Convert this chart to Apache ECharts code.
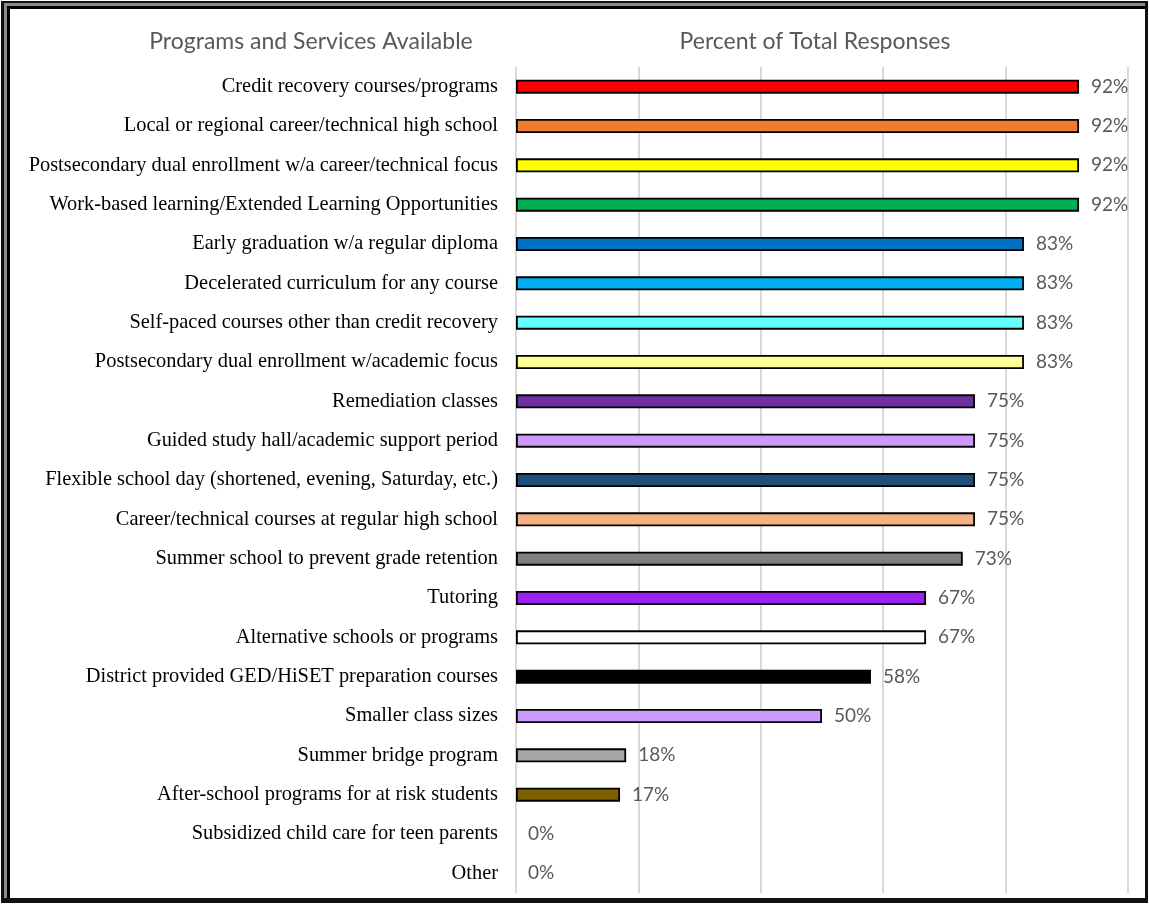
<!DOCTYPE html>
<html>
<head>
<meta charset="utf-8">
<script src="https://cdn.jsdelivr.net/npm/echarts@6/dist/echarts.min.js"></script>
<style>
  html, body { margin: 0; padding: 0; background: #fff; }
  #chart { width: 1149px; height: 904px; }
</style>
</head>
<body>
<div id="chart"></div>
<script>
// Programs offered, top to bottom
const categories = [
  'Credit recovery courses/programs',
  'Local or regional career/technical high school',
  'Postsecondary dual enrollment w/a career/technical focus',
  'Work-based learning/Extended Learning Opportunities',
  'Early graduation w/a regular diploma',
  'Decelerated curriculum for any course',
  'Self-paced courses other than credit recovery',
  'Postsecondary dual enrollment w/academic focus',
  'Remediation classes',
  'Guided study hall/academic support period',
  'Flexible school day (shortened, evening, Saturday, etc.)',
  'Career/technical courses at regular high school',
  'Summer school to prevent grade retention',
  'Tutoring',
  'Alternative schools or programs',
  'District provided GED/HiSET preparation courses',
  'Smaller class sizes',
  'Summer bridge program',
  'After-school programs for at risk students',
  'Subsidized child care for teen parents',
  'Other'
];

// Percent of total responses
const percents = [92, 92, 92, 92, 83, 83, 83, 83, 75, 75, 75, 75, 73, 67, 67, 58, 50, 18, 17, 0, 0];

// Fill colour of each bar
const barColors = [
  '#FF0000', '#ED7D31', '#FFFF00', '#00B050', '#0070C0', '#00B0F0', '#66FFFF', '#FFFF99',
  '#7030A0', '#CC99FF', '#1F4E79', '#F4B183', '#7F7F7F', '#9B22F2', '#FFFFFF', '#000000',
  '#CC99FF', '#A6A6A6', '#7F6000', '#FFFFFF', '#FFFFFF'
];

const headerLeft = 'Programs and Services Available';
const headerRight = 'Percent of Total Responses';

const chart = echarts.init(document.getElementById('chart'), null, { renderer: 'canvas' });

const barData = percents.map((v, i) => ({
  value: v,
  itemStyle: {
    color: barColors[i],
    borderColor: '#000',
    borderWidth: v === 0 ? 0 : 1.8
  }
}));

chart.setOption({
  animation: false,
  backgroundColor: '#fff',
  grid: { left: 516, right: 21, top: 67, bottom: 11, containLabel: false },
  xAxis: {
    type: 'value',
    min: 0,
    max: 100,
    interval: 20,
    axisLabel: { show: false },
    axisLine: { show: false },
    axisTick: { show: false },
    splitLine: { show: true, lineStyle: { color: '#D9D9D9', width: 2 } }
  },
  yAxis: {
    type: 'category',
    data: categories,
    inverse: true,
    axisLine: { show: false },
    axisTick: { show: false },
    axisLabel: {
      color: '#000',
      fontFamily: 'Liberation Serif',
      fontSize: 20.4,
      margin: 18
    }
  },
  series: [{
    type: 'bar',
    data: barData,
    barWidth: 14,
    label: {
      show: true,
      position: 'right',
      distance: 12,
      formatter: '{c}%',
      color: '#595959',
      fontFamily: 'Lato',
      fontSize: 19
    }
  }],
  graphic: [
    // picture frame: dark outer edge, grey bevel on top/left, black inner line
    { type: 'rect', silent: true, z: -10, shape: { x: 1, y: 1, width: 1147, height: 902 }, style: { fill: '#111' } },
    { type: 'rect', silent: true, z: -9, shape: { x: 4, y: 3, width: 1141, height: 895 }, style: { fill: '#8C8C8C' } },
    { type: 'rect', silent: true, z: -8, shape: { x: 7, y: 6, width: 1138, height: 892 }, style: { fill: '#000' } },
    { type: 'rect', silent: true, z: -7, shape: { x: 10, y: 9, width: 1135, height: 889 }, style: { fill: '#fff' } },
    {
      type: 'text', x: 311, y: 42, z: 10,
      style: { text: headerLeft, fill: '#595959', font: '23px Lato', textAlign: 'center', textVerticalAlign: 'middle' }
    },
    {
      type: 'text', x: 815, y: 42, z: 10,
      style: { text: headerRight, fill: '#595959', font: '23px Lato', textAlign: 'center', textVerticalAlign: 'middle' }
    }
  ]
});
</script>
</body>
</html>
